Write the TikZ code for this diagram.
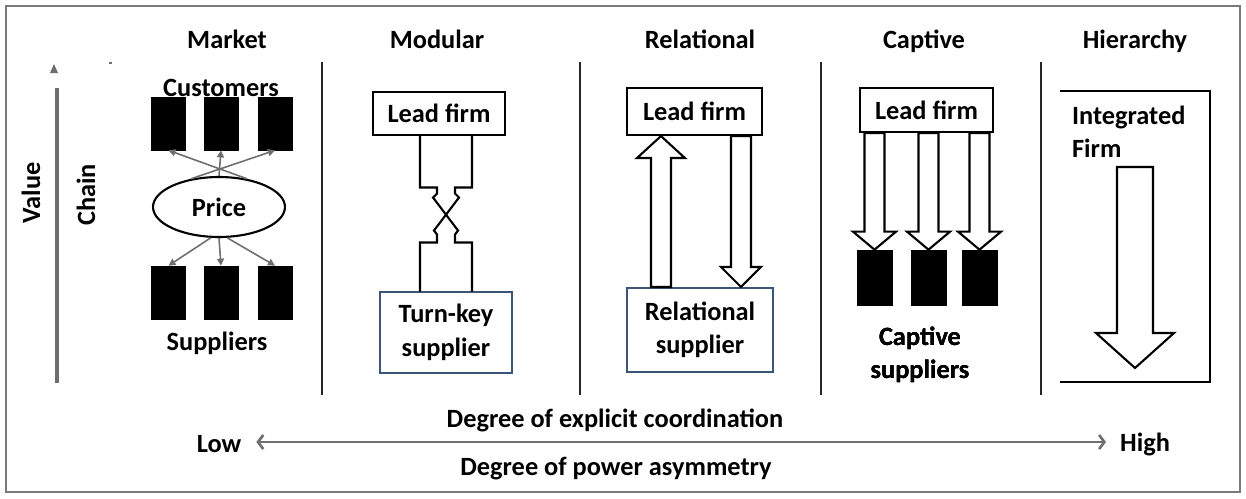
\documentclass[tikz,border=0pt]{standalone}
\usepackage{fontspec}
\setmainfont{Carlito}
\usetikzlibrary{arrows.meta,calc,shapes.geometric}
\definecolor{supborder}{HTML}{3B5578}
\definecolor{axisgray}{HTML}{6E6E6E}
\definecolor{framegray}{HTML}{7A7A7A}
\tikzset{
  lbl/.style={font=\fontsize{15}{19}\selectfont\bfseries, inner sep=1pt, align=center},
  title/.style={lbl, anchor=base},
  firm/.style={lbl, draw, line width=1.2pt, fill=white, minimum width=2.64cm, minimum height=0.86cm},
  supbox/.style={lbl, draw=supborder, line width=1.2pt, fill=white},
  blk/.style={draw, fill=black, minimum width=0.68cm, minimum height=1.06cm, inner sep=0pt},
  divider/.style={line width=1.6pt, black!85},
  hollow/.style={draw, fill=white, line width=1.2pt, line join=miter},
  thinarrow/.style={-{Triangle[length=4pt,width=4pt]}, axisgray, line width=0.9pt},
}
\newcommand{\fatarrow}[5]{%
  \draw[hollow] let \p1=#1, \p2=#2, \n1={sign(\y1-\y2)} in
    (\x1-#3,\y1) -- (\x1-#3,\y2+\n1*#5) -- (\x1-#4,\y2+\n1*#5) -- (\x2,\y2)
    -- (\x1+#4,\y2+\n1*#5) -- (\x1+#3,\y2+\n1*#5) -- (\x1+#3,\y1) -- cycle;}

\begin{document}
\begin{tikzpicture}[x=0.02cm, y=-0.02cm]
    \useasboundingbox (0,0) rectangle (1246,498);
    \draw[framegray, line width=0.8pt] (6,6) rectangle (1240,492);
    \foreach \x in {322,580,821,1041}
      \draw[divider] (\x,62) -- (\x,395);

    \node[title] (tmarket) at (227,48) {Market};
    \node[title] (tmodular) at (437,48) {Modular};
    \node[title] (trelational) at (700,48) {Relational};
    \node[title] (tcaptive) at (924,48) {Captive};
    \node[title] (thierarchy) at (1135,48) {Hierarchy};

    \coordinate (vtop) at (57,88);
    \coordinate (vbot) at (57,383);
    \draw[axisgray, line width=1.8pt] (vbot) -- (vtop);
    \fill[axisgray] (50,73) -- (54,64) -- (58,73) -- cycle;
    \draw[axisgray, line width=1pt] (109,63) -- (112,63);
    \node[lbl, rotate=90] (value) at (31,193) {Value};
    \node[lbl, rotate=90] (chain) at (86,195) {Chain};

    \node[title] (customers) at (221,96) {Customers};
    \node[blk] (c1) at (168.5,123.5) {};
    \node[blk] (c2) at (221,123.5) {};
    \node[blk] (c3) at (275,123.5) {};
    \node[lbl, draw, ellipse, line width=1.2pt, minimum width=2.64cm, minimum height=1.2cm, inner sep=0pt] (price) at (219,207) {Price};
    \node[blk] (s1) at (168.5,292.5) {};
    \node[blk] (s2) at (221,292.5) {};
    \node[blk] (s3) at (275,292.5) {};
    \node[title] (suppliers) at (217,350) {Suppliers};
    \draw[thinarrow] (price.45) -- (c1.south);
    \draw[thinarrow] (price.90) -- (c2.south);
    \draw[thinarrow] (price.135) -- (c3.south);
    \draw[thinarrow] (price.255) -- (s1.north);
    \draw[thinarrow] (price.270) -- (s2.north);
    \draw[thinarrow] (price.285) -- (s3.north);

    \node[firm] (mlf) at (439,113.5) {Lead firm};
    \node[supbox, minimum width=2.64cm, minimum height=1.62cm] (ts) at (446,332.5) {Turn-key\\supplier};
    \coordinate (mx) at ($(ts.north)!0.5!(ts.north |- mlf.south)$);
    \draw[hollow, fill=none, shift={(mx)}] (-26,-79) -- (-26,-26) -- (-9,-26) -- (-9,-20) -- (-13,-16)
      -- (12,17) -- (9,21) -- (9,29) -- (26,29) -- (26,78);
    \draw[hollow, fill=none, shift={(mx)}] (26,-79) -- (26,-26) -- (9,-26) -- (9,-20) -- (13,-16)
      -- (-12,17) -- (-9,21) -- (-9,29) -- (-26,29) -- (-26,78);

    \node[firm, minimum width=2.7cm, minimum height=0.94cm] (rlf) at (694.5,111.5) {Lead firm};
    \node[supbox, minimum width=2.92cm, minimum height=1.68cm] (rs) at (700,330) {Relational\\supplier};
    \fatarrow{($(rs.north west)+(35,0)$)}{($(rlf.south west)+(35,0)$)}{0.2cm}{0.48cm}{0.44cm}
    \fatarrow{($(rlf.south west)+(115,0)$)}{($(rs.north west)+(115,0)$)}{0.2cm}{0.4cm}{0.4cm}

    \node[firm, minimum width=2.66cm, minimum height=0.88cm] (clf) at (926.5,110) {Lead firm};
    \node[blk, minimum width=0.7cm, minimum height=1.1cm] (k1) at (874.5,277.5) {};
    \node[blk, minimum width=0.7cm, minimum height=1.1cm] (k2) at (928.5,277.5) {};
    \node[blk, minimum width=0.7cm, minimum height=1.1cm] (k3) at (979.5,277.5) {};
    \foreach \k in {k1,k2,k3}
      \fatarrow{(\k.north |- clf.south)}{(\k.north)}{0.2cm}{0.43cm}{0.36cm}
    \node[lbl] (captsup) at (920,355) {Captive\\suppliers};

    \draw[line width=1.2pt] (1060,91) -- (1210,91) -- (1210,382) -- (1060,382);
    \node[lbl, align=left, anchor=west] (integ) at (1070,132) {Integrated\\Firm};
    \coordinate (htail) at (1135,167);
    \coordinate (htip) at (1135,368);
    \fatarrow{(htail)}{(htip)}{0.36cm}{0.78cm}{0.7cm}

    \node[title] (coord) at (615,427) {Degree of explicit coordination};
    \node[lbl] (low) at (219,444) {Low};
    \node[lbl] (high) at (1145,444) {High};
    \draw[axisgray, line width=1.5pt, {Straight Barb[length=3pt,width=8pt]}-{Straight Barb[length=3pt,width=8pt]}]
      ($(low.east)+(13,-2)$) -- ($(high.west)+(-12,-2)$);
    \node[title] (power) at (616,475) {Degree of power asymmetry};
\end{tikzpicture}
\end{document}
